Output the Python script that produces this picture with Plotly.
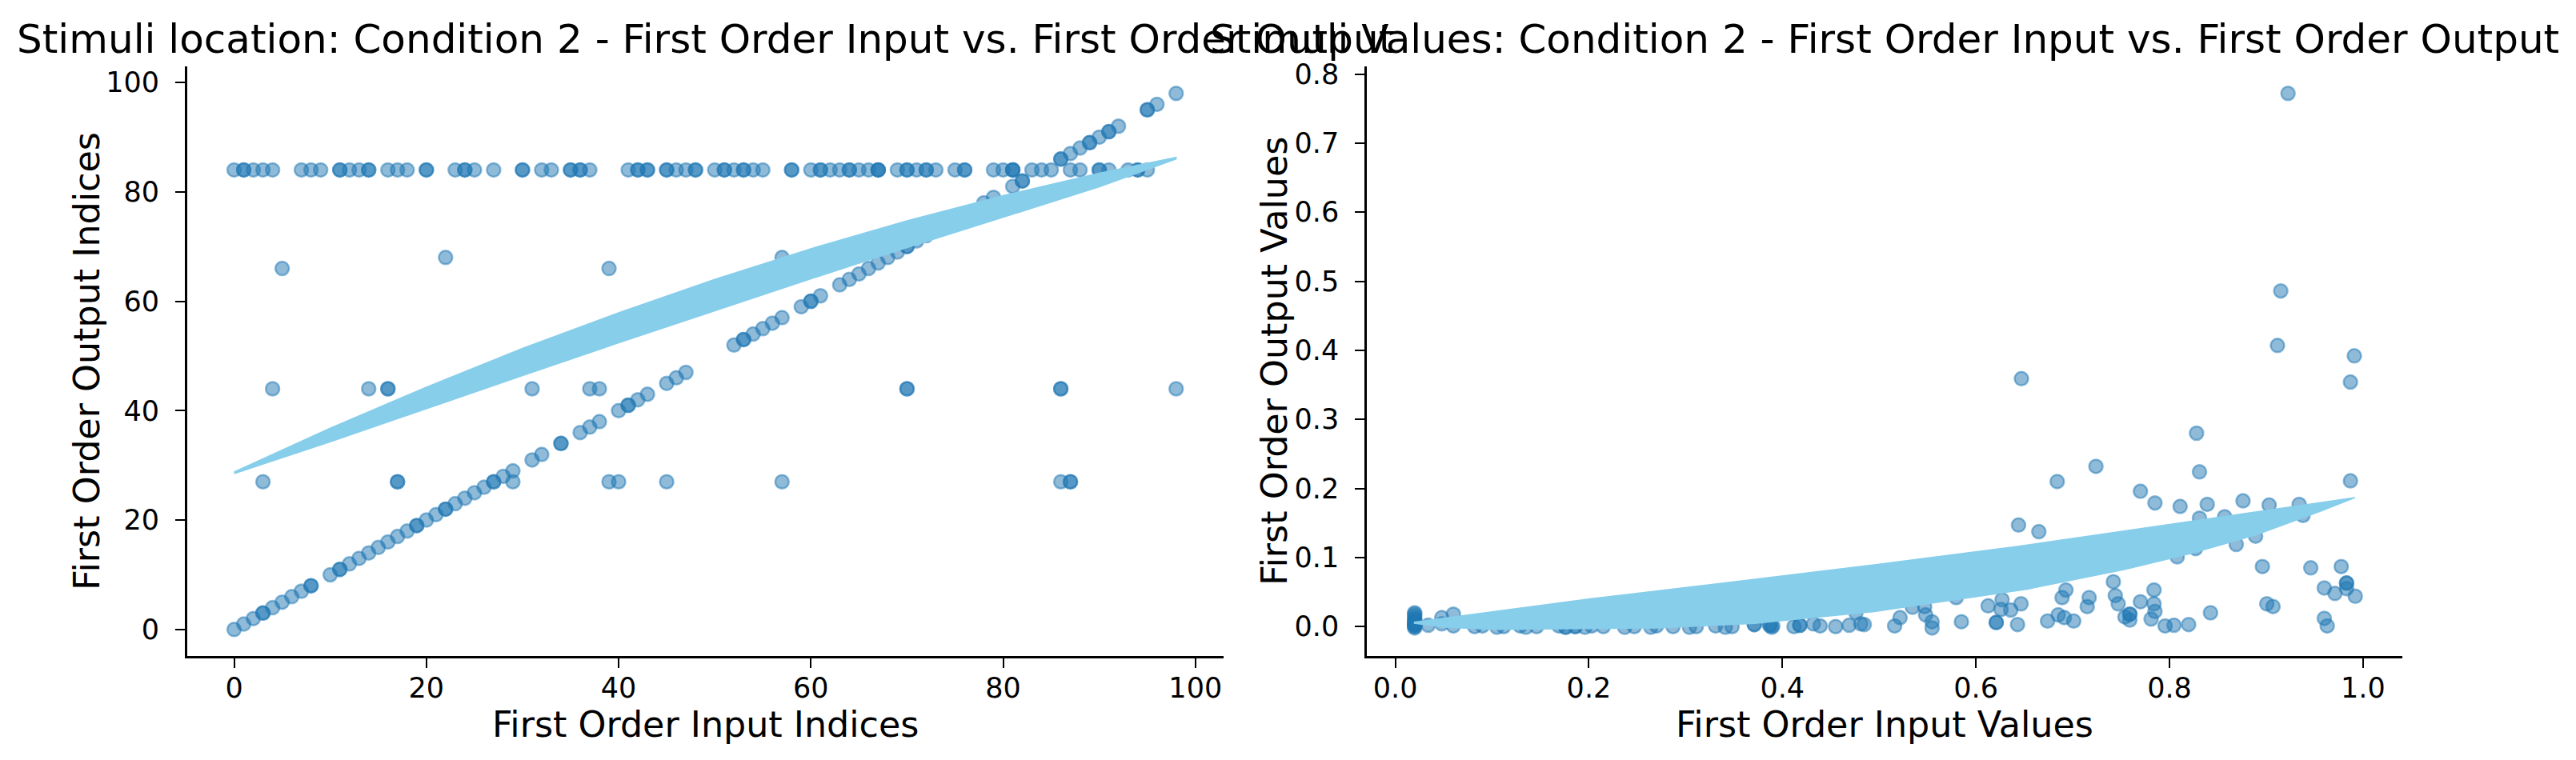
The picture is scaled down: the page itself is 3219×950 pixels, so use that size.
import plotly.graph_objects as go

W, H = 3219, 950

# ---------------- Left panel: indices ----------------
diag_idx = [0, 1, 2, 3, 4, 5, 6, 7, 8, 10, 11, 12, 13, 14, 15, 16, 17, 18, 19, 20, 21, 22, 23, 24, 25,
            26, 27, 28, 29, 31, 32, 34, 36, 37, 38, 40, 41, 42, 43, 45, 46, 47, 52, 53, 54, 55, 56,
            57, 59, 60, 61, 63, 64, 65, 66, 67, 68, 69, 70, 71, 72, 73, 74, 75, 76, 78, 79, 81, 82,
            86, 87, 88, 89, 90, 91, 92, 95, 96, 98,
            3, 8, 11, 19, 22, 27, 34, 41, 53, 60, 70, 82, 86, 89, 91, 95]
row84_x = [0, 1, 2, 3, 4, 7, 8, 9, 11, 12, 13, 14, 16, 17, 18, 20, 23, 24, 25, 27, 30, 32, 33, 35,
           36, 37, 41, 42, 43, 45, 46, 47, 48, 50, 51, 52, 53, 54, 55, 58, 60, 61, 62, 63, 64, 65,
           66, 67, 69, 70, 71, 72, 73, 75, 76, 79, 80, 81, 83, 84, 85, 87, 88, 90, 91, 93, 94, 95,
           1, 11, 14, 20, 24, 30, 35, 36, 42, 43, 45, 48, 51, 53, 58, 61, 64, 67, 67, 70, 72, 76,
           81, 81, 90, 94]
row44_x = [4, 14, 16, 31, 37, 38, 70, 86, 98, 16, 70, 86]
row27_x = [3, 17, 29, 39, 40, 45, 57, 86, 87, 17, 87]
other_x = [5, 22, 39, 57]
other_y = [66, 68, 66, 68]

idx_in = diag_idx + row84_x + row44_x + row27_x + other_x
idx_out = diag_idx + [84] * len(row84_x) + [44] * len(row44_x) + [27] * len(row27_x) + other_y

fit1_upper_x = [0, 10, 20, 30, 40, 50, 60, 70, 80, 90, 98]
fit1_upper_y = [28.8, 36.8, 44.3, 51.4, 57.9, 64.0, 69.6, 74.7, 79.3, 83.4, 86.3]
fit1_lower_x = [0, 10, 20, 30, 40, 50, 60, 70, 80, 90, 98]
fit1_lower_y = [28.5, 34.3, 40.3, 46.4, 52.4, 58.3, 64.1, 69.8, 75.4, 80.9, 86.0]

# ---------------- Right panel: values ----------------
val_in = ([0.02] * 14 +
          [0.034, 0.048, 0.048, 0.060, 0.060, 0.082, 0.090, 0.105, 0.112, 0.129, 0.135, 0.146,
           0.169, 0.176, 0.186, 0.196, 0.203, 0.203, 0.215, 0.237, 0.247, 0.264, 0.270, 0.287,
           0.304, 0.311, 0.331, 0.341, 0.348, 0.371, 0.387, 0.389, 0.412, 0.418, 0.432, 0.439,
           0.455, 0.469, 0.476, 0.481, 0.176, 0.186, 0.371, 0.387, 0.390, 0.418] +
          [0.4846, 0.516, 0.5216, 0.5344, 0.547, 0.548, 0.5547, 0.5547, 0.5796, 0.585, 0.6126,
           0.621, 0.621, 0.626, 0.627, 0.636, 0.643, 0.644, 0.6466, 0.647, 0.665, 0.674, 0.684,
           0.685, 0.689, 0.6914, 0.693, 0.701, 0.715, 0.717, 0.724, 0.742, 0.744, 0.747, 0.754,
           0.759, 0.759, 0.759, 0.770, 0.770, 0.781, 0.784, 0.784, 0.785, 0.785, 0.7955, 0.8047,
           0.808, 0.811, 0.8198, 0.827, 0.828, 0.831, 0.831, 0.839, 0.8424, 0.857, 0.869, 0.876,
           0.889, 0.896, 0.9006, 0.903, 0.907, 0.9116, 0.915, 0.9225, 0.934, 0.938, 0.946, 0.960,
           0.960, 0.963, 0.971, 0.9775, 0.983, 0.983, 0.983, 0.987, 0.987, 0.991, 0.992])
val_out = ([0.0, 0.002, 0.004, 0.006, 0.008, 0.010, 0.012, 0.015, 0.018, 0.020, -0.002, 0.001,
            0.005, 0.003] +
           [0.002, 0.004, 0.013, 0.001, 0.018, 0.0, 0.001, -0.001, 0.0, 0.001, -0.001, 0.0,
            0.001, -0.001, 0.0, -0.001, 0.001, 0.027, 0.0, -0.001, 0.0, -0.001, 0.001, 0.0,
            -0.001, 0.0, 0.001, -0.001, 0.0, 0.003, 0.002, -0.001, 0.0, 0.002, 0.004, 0.001,
            0.0, 0.002, 0.020, 0.004, -0.001, 0.0, 0.003, 0.002, 0.001, 0.002] +
           [0.003, 0.001, 0.013, 0.028, 0.029, 0.017, 0.007, -0.002, 0.042, 0.007, 0.030,
            0.006, 0.006, 0.025, 0.039, 0.024, 0.003, 0.147, 0.033, 0.359, 0.1375, 0.008, 0.210,
            0.017, 0.042, 0.013, 0.053, 0.008, 0.029, 0.042, 0.232, 0.065, 0.045, 0.033, 0.014,
            0.0095, 0.018, 0.018, 0.196, 0.036, 0.011, 0.053, 0.033, 0.022, 0.179, 0.001, 0.002,
            0.101, 0.174, 0.003, 0.113, 0.280, 0.224, 0.157, 0.177, 0.020, 0.159, 0.119, 0.182,
            0.131, 0.087, 0.033, 0.176, 0.029, 0.407, 0.486, 0.772, 0.177, 0.161, 0.085, 0.056,
            0.012, 0.001, 0.048, 0.087, 0.063, 0.063, 0.055, 0.211, 0.354, 0.392, 0.044])

fit2_upper_x = [0.0192, 0.2, 0.35, 0.495, 0.643, 0.82, 0.936, 0.9917]
fit2_upper_y = [0.0064, 0.040, 0.065, 0.0895, 0.116, 0.152, 0.1755, 0.1868]
fit2_lower_x = [0.0192, 0.05, 0.102, 0.27, 0.371, 0.495, 0.653, 0.754, 0.8215, 0.889, 0.956, 0.9917]
fit2_lower_y = [0.005, -0.001, -0.0042, -0.002, 0.0046, 0.0218, 0.0542, 0.0829, 0.1058, 0.1325,
                0.1669, 0.1868]

BLUE_A = "rgba(31,119,180,0.5)"
SKY = "#87CEEB"


def padded(vals):
    lo, hi = min(vals), max(vals)
    m = (hi - lo) * 0.05
    return [lo - m, hi + m]


fig = go.Figure()

marker = dict(size=17, color=BLUE_A, line=dict(color=BLUE_A, width=2.5))

fig.add_trace(go.Scatter(x=idx_in, y=idx_out, mode="markers", marker=marker,
                         xaxis="x", yaxis="y", showlegend=False))
fig.add_trace(go.Scatter(x=fit1_upper_x + fit1_lower_x[::-1], y=fit1_upper_y + fit1_lower_y[::-1],
                         mode="lines", fill="toself", fillcolor=SKY,
                         line=dict(color=SKY, width=1.5), xaxis="x", yaxis="y", showlegend=False))
fig.add_trace(go.Scatter(x=val_in, y=val_out, mode="markers", marker=marker,
                         xaxis="x2", yaxis="y2", showlegend=False))
fig.add_trace(go.Scatter(x=fit2_upper_x + fit2_lower_x[::-1], y=fit2_upper_y + fit2_lower_y[::-1],
                         mode="lines", fill="toself", fillcolor=SKY,
                         line=dict(color=SKY, width=1.5), xaxis="x2", yaxis="y2", showlegend=False))

ax_common = dict(showgrid=False, zeroline=False, showline=True, linecolor="black", linewidth=2.5,
                 ticks="outside", ticklen=12, tickwidth=2, tickcolor="black",
                 tickfont=dict(size=35, color="black", family="DejaVu Sans"), mirror=False)

L0, L1 = 233.7 / W, 1528.6 / W
R0, R1 = 1708 / W, 3002 / W
B, T = 1 - 819 / H, 1 - 74 / H

fig.update_layout(
    width=W, height=H, margin=dict(l=0, r=0, t=0, b=0),
    paper_bgcolor="white", plot_bgcolor="white",
    font=dict(family="DejaVu Sans", color="black"),
    xaxis=dict(domain=[L0, L1], anchor="y", range=padded(idx_in),
               tickvals=[0, 20, 40, 60, 80, 100], ticklabelstandoff=-5, **ax_common),
    yaxis=dict(domain=[B, T], anchor="x", range=padded(idx_out + fit1_upper_y),
               tickvals=[0, 20, 40, 60, 80, 100], ticklabelstandoff=13, **ax_common),
    xaxis2=dict(domain=[R0, R1], anchor="y2", range=padded(val_in + fit2_upper_x),
                tickvals=[0, 0.2, 0.4, 0.6, 0.8, 1.0], tickformat=".1f", ticklabelstandoff=-5,
                **ax_common),
    yaxis2=dict(domain=[B, T], anchor="x2", range=padded(val_out + fit2_lower_y),
                tickvals=[0, 0.1, 0.2, 0.3, 0.4, 0.5, 0.6, 0.7, 0.8], tickformat=".1f",
                ticklabelstandoff=13, **ax_common),
)

ann = []
lc, rc = (233.7 + 1528.6) / 2 / W, (1708 + 3002) / 2 / W
ann.append(dict(text="Stimuli location: Condition 2 - First Order Input vs. First Order Output",
                x=lc, y=1 - 39 / H, xref="paper", yref="paper", xanchor="center", yanchor="middle",
                showarrow=False, font=dict(size=50, color="black")))
ann.append(dict(text="Stimuli Values: Condition 2 - First Order Input vs. First Order Output",
                x=rc, y=1 - 39 / H, xref="paper", yref="paper", xanchor="center", yanchor="middle",
                showarrow=False, font=dict(size=50, color="black")))
ann.append(dict(text="First Order Input Indices", x=lc, y=1 - 905 / H, xref="paper", yref="paper",
                xanchor="center", yanchor="middle", showarrow=False,
                font=dict(size=44.4, color="black")))
ann.append(dict(text="First Order Input Values", x=rc, y=1 - 905 / H, xref="paper", yref="paper",
                xanchor="center", yanchor="middle", showarrow=False,
                font=dict(size=44.4, color="black")))
ann.append(dict(text="First Order Output Indices", x=109 / W, y=(B + T) / 2, xref="paper",
                yref="paper", xanchor="center", yanchor="middle", textangle=-90, showarrow=False,
                font=dict(size=44.4, color="black")))
ann.append(dict(text="First Order Output Values", x=1593 / W, y=(B + T) / 2, xref="paper",
                yref="paper", xanchor="center", yanchor="middle", textangle=-90, showarrow=False,
                font=dict(size=44.4, color="black")))
fig.update_layout(annotations=ann)

fig.write_html("out.html")
